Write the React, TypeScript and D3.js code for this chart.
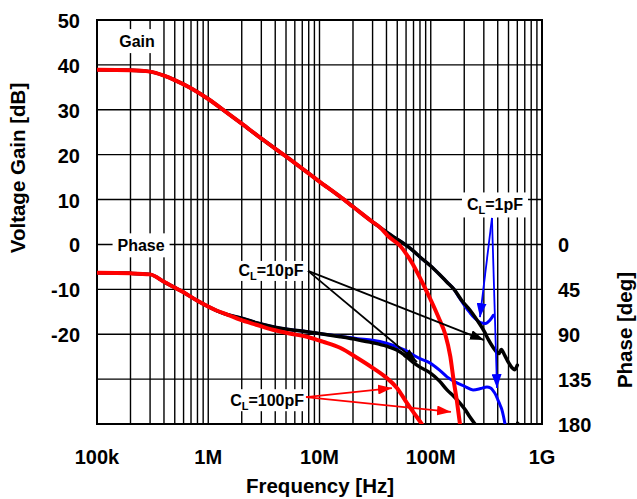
import React from "react";
import * as d3 from "d3";

const W = 637;
const H = 499;
const plot = { left: 97, right: 542, top: 20, bottom: 424 };
const FONT = "'Liberation Sans', Arial, Helvetica, sans-serif";

// frequency ticks
const decadeTicks = [1e5, 1e6, 1e7, 1e8, 1e9];
const decadeLabels = ["100k", "1M", "10M", "100M", "1G"];
const gainTicks = [50, 40, 30, 20, 10, 0, -10, -20, -30, -40];
const gainLabels = ["50", "40", "30", "20", "10", "0", "-10", "-20"];
const phaseLabels = [0, 45, 90, 135, 180];

// gain [dB], common part for all loads
const gainFreqLow = [1e5, 2e5, 3e5, 4e5, 5e5, 7e5, 1e6, 1.5e6, 2e6, 3e6, 5e6, 7e6, 1e7, 1.5e7, 2e7, 3e7, 3.5e7];
const gainLow = [38.9, 38.8, 38.5, 37.6, 36.6, 34.8, 32.4, 29.2, 26.9, 23.6, 19.6, 16.9, 14.0, 10.8, 8.4, 5.0, 3.8];

// C_L = 100pF
const gain100Freq = [4.2e7, 5.3e7, 6.1e7, 6.9e7, 7.8e7, 9e7, 1.05e8, 1.2e8, 1.35e8, 1.5e8, 1.6e8, 1.72e8, 1.83e8];
const gain100 = [1.7, -0.3, -2.3, -4.4, -6.9, -10, -13.5, -16.8, -20, -25, -30, -35, -40];

// C_L = 10pF
const gain10Freq = [4.5e7, 5.5e7, 6.25e7, 7e7, 8e7, 1e8, 1.2e8, 1.4e8, 1.62e8, 1.9e8, 2.25e8, 2.6e8, 3e8, 3.3e8, 3.7e8, 4.1e8, 4.3e8, 4.6e8, 5e8, 5.4e8, 5.7e8, 6e8];
const gain10 = [1.9, 0.5, -0.5, -1.5, -2.8, -4.8, -6.7, -8.4, -10, -12.5, -14.6, -16.8, -19.2, -21.2, -23.2, -24.3, -23.4, -24.6, -26.3, -27.5, -27.9, -26.9];

// C_L = 1pF (splits from 10pF above 160MHz)
const gain1Freq = [1.8e8, 2e8, 2.25e8, 2.5e8, 2.8e8, 3.1e8, 3.4e8, 3.65e8];
const gain1 = [-11.8, -13.5, -15.2, -16.5, -17.4, -17.6, -16.9, -15.8];

// phase [deg], common part
const phaseFreqLow = [1e5, 2e5, 3e5, 4e5, 6e5, 8e5, 1.2e6, 1.5e6];
const phaseLow = [28.5, 29, 30, 37.5, 48, 56.5, 66.5, 70.5];

const phase100Freq = [1.93e6, 2.7e6, 3.8e6, 5.5e6, 7.7e6, 1.07e7, 1.53e7, 2.17e7, 3e7, 4e7, 4.97e7, 6.1e7, 7.5e7, 8.3e7];
const phase100 = [75.4, 80.5, 85.5, 89.5, 92.5, 97.5, 103.6, 113.6, 123.7, 133.7, 143.8, 158.9, 173, 180];

const phase10Freq = [1.93e6, 2.7e6, 3.8e6, 5.5e6, 7.7e6, 1.1e7, 1.53e7, 2.2e7, 3e7, 4e7, 5e7, 6e7, 6.9e7, 8e7, 9.8e7, 1.2e8, 1.4e8, 1.6e8, 1.83e8, 2.05e8, 2.25e8, 2.5e8];
const phase10 = [73.4, 78.5, 82.5, 85.5, 87.5, 90, 92.5, 95.5, 98.5, 102, 106, 112, 118, 123, 128.5, 137, 145.8, 152, 159, 166, 173, 180];
const phase10TailFreq = [6e8, 6.2e8];
const phase10Tail = [178.5, 180];

const phase1Freq = [1.53e7, 2.2e7, 3e7, 4e7, 5e7, 6e7, 6.9e7, 8e7, 9.8e7, 1.2e8, 1.4e8, 1.72e8, 2e8, 2.4e8, 2.8e8, 3.2e8, 3.45e8, 3.63e8, 3.85e8, 4.02e8, 4.2e8, 4.37e8, 4.5e8, 4.65e8];
const phase1 = [92, 94.5, 96, 99, 102.6, 106.5, 110.6, 114.5, 118.7, 126, 132.7, 138.8, 142, 145.8, 144.5, 142.8, 144, 146.5, 151, 156, 161, 166, 172, 180];

const zip = (fs: number[], vs: number[]) => fs.map((f, i) => [f, vs[i]] as [number, number]);

const x = d3.scaleLog().domain([1e5, 1e9]).range([plot.left, plot.right]);
const y = d3.scaleLinear().domain([-40, 50]).range([plot.bottom, plot.top]);
const yPh = d3.scaleLinear().domain([0, 180]).range([y(0), y(-40)]);

const gainLine = d3
  .line<[number, number]>()
  .x((d) => x(d[0]))
  .y((d) => y(d[1]))
  .curve(d3.curveMonotoneX);
const phaseLine = d3
  .line<[number, number]>()
  .x((d) => x(d[0]))
  .y((d) => yPh(d[1]))
  .curve(d3.curveMonotoneX);

// 10pF gain up to the point where the 1pF curve splits off
const tenUpTo = (fmax: number) =>
  zip(gainFreqLow, gainLow)
    .concat(zip(gain10Freq, gain10))
    .filter((d) => d[0] <= fmax);

const curves = [
  { color: "#0000ff", width: 3, d: gainLine(tenUpTo(1.62e8).concat(zip(gain1Freq, gain1))) },
  {
    color: "#0000ff",
    width: 3,
    d: phaseLine(
      zip(phaseFreqLow, phaseLow).concat(
        zip(phase10Freq, phase10).filter((p) => p[0] <= 1.1e7),
        zip(phase1Freq, phase1)
      )
    ),
  },
  { color: "#000000", width: 3.5, d: gainLine(zip(gainFreqLow, gainLow).concat(zip(gain10Freq, gain10))) },
  { color: "#000000", width: 3.5, d: phaseLine(zip(phaseFreqLow, phaseLow).concat(zip(phase10Freq, phase10))) },
  { color: "#000000", width: 2.5, d: phaseLine(zip(phase10TailFreq, phase10Tail)) },
  { color: "#ff0000", width: 4, d: gainLine(zip(gainFreqLow, gainLow).concat(zip(gain100Freq, gain100))) },
  { color: "#ff0000", width: 4, d: phaseLine(zip(phaseFreqLow, phaseLow).concat(zip(phase100Freq, phase100))) },
];

// annotation labels, anchored at (frequency, gain)
const plainLabels = [
  { text: "Gain", at: [2.29e5, 45.3], box: [48, 24] },
  { text: "Phase", at: [2.49e5, -0.2], box: [57, 24] },
];
const loadLabels = [
  { value: "=10pF", at: [3.66e6, -5.9], box: [72, 20], from: [7.88e6, -5.9], tips: [[3.01e8, -21.3], [7.52e7, -26.2]], color: "#000000" },
  { value: "=100pF", at: [3.38e6, -34.7], box: [81, 22], from: [7.56e6, -34.0], tips: [[4.48e7, -32], [1.52e8, -37.3]], color: "#ff0000" },
  { value: "=1pF", at: [3.78e8, 8.8], box: [66, 25], from: [3.55e8, 5.9], tips: [[2.77e8, -16.2], [3.94e8, -32]], color: "#0000ff" },
];

const minorTicks: number[] = [];
for (let e = 5; e < 9; e++) for (let k = 1; k < 10; k++) minorTicks.push(k * 10 ** e);
minorTicks.push(1e9);

export default function App() {
  const tickFont = { fontFamily: FONT, fontWeight: 700, fontSize: 20 };
  const noteFont = { fontFamily: FONT, fontWeight: 700, fontSize: 16 };
  const boxes: any[] = [...plainLabels, ...loadLabels];
  return (
    <svg width={W} height={H} style={{ position: "absolute", left: 0, top: 0, background: "#fff" }}>
      <defs>
        <clipPath id="plotClip">
          <rect x={plot.left} y={plot.top} width={plot.right - plot.left} height={plot.bottom - plot.top} />
        </clipPath>
        {loadLabels.map((l, i) => (
          <marker key={i} id={`head${i}`} markerUnits="userSpaceOnUse" markerWidth={14} markerHeight={10} refX={14} refY={5} orient="auto">
            <path d="M0,0 L14,5 L0,10 Z" fill={l.color} />
          </marker>
        ))}
      </defs>
      <rect x={0} y={0} width={W} height={H} fill="#fff" />

      {/* grid */}
      <g stroke="#000" strokeWidth={1.4}>
        {minorTicks.map((f) => (
          <line key={f} x1={x(f)} x2={x(f)} y1={plot.top} y2={plot.bottom} />
        ))}
        {gainTicks.map((g) => (
          <line key={g} x1={plot.left} x2={plot.right} y1={y(g)} y2={y(g)} />
        ))}
        <rect x={plot.left} y={plot.top} width={plot.right - plot.left} height={plot.bottom - plot.top} fill="none" strokeWidth={2} />
      </g>

      {/* label backgrounds */}
      {boxes.map((l, i) => (
        <rect key={i} x={x(l.at[0]) - l.box[0] / 2} y={y(l.at[1]) - l.box[1] / 2} width={l.box[0]} height={l.box[1]} fill="#fff" />
      ))}

      {/* curves */}
      <g clipPath="url(#plotClip)" fill="none" strokeLinejoin="round" strokeLinecap="round">
        {curves.map((c, i) => (
          <path key={i} d={c.d || ""} stroke={c.color} strokeWidth={c.width} />
        ))}
      </g>

      {/* arrows */}
      {loadLabels.map((l, i) =>
        l.tips.map((t, j) => (
          <line key={`${i}-${j}`} x1={x(l.from[0])} y1={y(l.from[1])} x2={x(t[0])} y2={y(t[1])} stroke={l.color} strokeWidth={1.8} markerEnd={`url(#head${i})`} />
        ))
      )}

      {/* annotation text */}
      {plainLabels.map((l, i) => (
        <text key={i} x={x(l.at[0])} y={y(l.at[1]) + 5.5} textAnchor="middle" {...noteFont}>
          {l.text}
        </text>
      ))}
      {loadLabels.map((l, i) => (
        <text key={i} x={x(l.at[0])} y={y(l.at[1]) + 5.5} textAnchor="middle" {...noteFont}>
          C<tspan fontSize={11} dy={4}>L</tspan>
          <tspan dy={-4}>{l.value}</tspan>
        </text>
      ))}

      {/* left axis labels */}
      {gainLabels.map((t) => (
        <text key={t} x={80} y={y(+t) + 8} textAnchor="end" {...tickFont}>
          {t}
        </text>
      ))}
      {/* right phase labels */}
      {phaseLabels.map((p) => (
        <text key={p} x={558} y={yPh(p) + 8} textAnchor="start" {...tickFont}>
          {p}
        </text>
      ))}
      {/* bottom labels */}
      {decadeTicks.map((f, i) => (
        <text key={f} x={x(f)} y={464} textAnchor="middle" {...tickFont}>
          {decadeLabels[i]}
        </text>
      ))}

      <text x={320} y={493} textAnchor="middle" {...tickFont} fontSize={20.5}>
        Frequency [Hz]
      </text>
      <text transform="translate(25,168) rotate(-90)" textAnchor="middle" {...tickFont} fontSize={20.5}>
        Voltage Gain [dB]
      </text>
      <text transform="translate(632,330) rotate(-90)" textAnchor="middle" {...tickFont} fontSize={20.5}>
        Phase [deg]
      </text>
    </svg>
  );
}
